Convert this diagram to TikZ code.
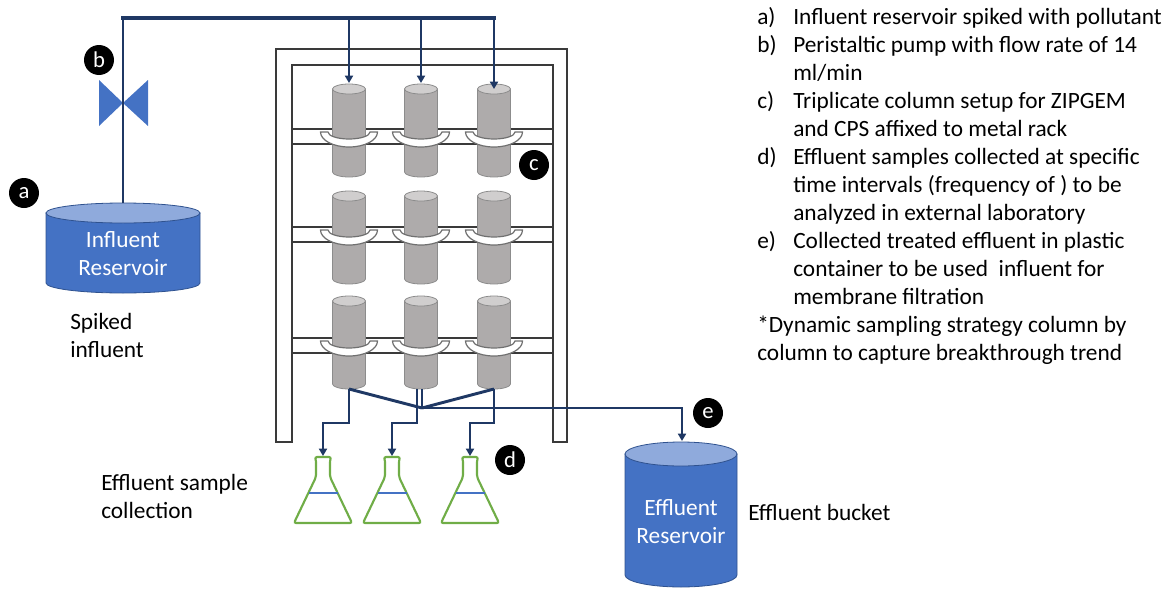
\documentclass[tikz,border=0pt]{standalone}
\usepackage{fontspec}
\setmainfont{Carlito}
\usetikzlibrary{arrows.meta}

\definecolor{pipeblue}{HTML}{1F3864}
\definecolor{tankblue}{HTML}{4472C4}
\definecolor{tankedge}{HTML}{2F528F}
\definecolor{tanktop}{HTML}{8FAADC}
\definecolor{colgray}{HTML}{AEABAB}
\definecolor{coltop}{HTML}{D0CECE}
\definecolor{coledge}{HTML}{8C8C8C}
\definecolor{flaskgreen}{HTML}{70AD47}
\definecolor{rackgray}{HTML}{3A3A3A}

\tikzset{
  rack/.style={draw=rackgray, line width=1.1pt},
  pipeline/.style={draw=pipeblue, line width=2.2pt},
  flow/.style={pipeline, -{Triangle[length=5.5pt,width=6pt]}},
  tag/.style={circle, fill=black, text=white, minimum size=22.5pt, inner sep=0pt,
    font=\fontsize{17}{17}\selectfont},
  tanktext/.style={text=white, align=center, inner sep=0pt, font=\fontsize{17.5}{21}\selectfont},
  note/.style={align=left, inner sep=0pt, font=\fontsize{17.5}{21}\selectfont},
}

% column with clamp: x, top, bottom, clamp level
\newcommand{\sorbcol}[4]{%
  \filldraw[fill=colgray, draw=coledge, line width=0.6pt]
    (#1-16.5,#2) -- (#1-16.5,#3)
    arc[start angle=180, end angle=0, x radius=16.5, y radius=5]
    -- (#1+16.5,#2) -- cycle;
  \filldraw[fill=coltop, draw=coledge, line width=0.6pt]
    (#1,#2) ellipse[x radius=16.5, y radius=5];
  \filldraw[fill=white, draw=coledge!80!black, line width=0.9pt]
    (#1-28.5,#4) arc[start angle=180, end angle=0, x radius=28.5, y radius=15]
    -- (#1+21,#4) arc[start angle=0, end angle=180, x radius=21, y radius=7] -- cycle;
}

% sample flask: x, neck top
\newcommand{\flask}[2]{%
  \draw[draw=flaskgreen, line width=1.6pt, fill=white, rounded corners=1.5pt]
    (#1-29,#2+66) -- (#1-7,#2+20) -- (#1-7,#2+3) -- (#1-8,#2) -- (#1+8,#2)
    -- (#1+7,#2+3) -- (#1+7,#2+20) -- (#1+29,#2+66) -- cycle;
  \draw[draw=tankblue, line width=1.6pt] (#1-14.5,#2+36) -- (#1+14.5,#2+36);
}

\begin{document}
\begin{tikzpicture}[x=0.75pt, y=-0.75pt]

  \useasboundingbox (0,0) rectangle (1167,589);

  % Rack
  \draw[rack] (276,442) -- (276,49) -- (567,49) -- (567,442) -- (553,442)
    -- (553,65) -- (292,65) -- (292,442) -- cycle;
  \foreach \sy in {129,227,338}
    \draw[rack] (292,\sy) -- (553,\sy) (292,\sy+15) -- (553,\sy+15);

  % Columns, three per shelf
  \foreach \cx in {349,421,494}
    \foreach \ytop/\ybot/\yclamp in {89/172/132, 196/279/230, 301/384/341}
      {\sorbcol{\cx}{\ytop}{\ybot}{\yclamp}}

  % Influent reservoir
  \filldraw[fill=tankblue, draw=tankedge, line width=0.6pt]
    (46,213) -- (46,283) arc[start angle=180, end angle=0, x radius=77, y radius=10]
    -- (200,213) -- cycle;
  \filldraw[fill=tanktop, draw=tankedge, line width=0.6pt]
    (123,213) ellipse[x radius=77, y radius=10];
  \node[tanktext] (influent) at (123,254) {Influent\\Reservoir};

  % Effluent reservoir
  \filldraw[fill=tankblue, draw=tankedge, line width=0.6pt]
    (625,454) -- (625,575) arc[start angle=180, end angle=0, x radius=56, y radius=12]
    -- (737,454) -- cycle;
  \filldraw[fill=tanktop, draw=tankedge, line width=0.6pt]
    (681,454) ellipse[x radius=56, y radius=12];
  \node[tanktext] (effluent) at (681,522) {Effluent\\Reservoir};

  % Flasks
  \foreach \fx in {323,392,470}
    {\flask{\fx}{457}}

  % Pump
  \fill[tankblue] (99,80) -- (123,103) -- (99,126) -- cycle;
  \fill[tankblue] (148,80) -- (123,103) -- (148,126) -- cycle;

  % Pipe ends
  \coordinate (inltop) at (123,203);
  \coordinate (header) at (0,18);
  \coordinate (c1top) at (349,83);
  \coordinate (c2top) at (421,83);
  \coordinate (c3top) at (494,89);
  \coordinate (c1bot) at (349,389);
  \coordinate (c2bot) at (422,389);
  \coordinate (c2out) at (417,389);
  \coordinate (c3bot) at (494,389);
  \coordinate (junc) at (422,408);
  \coordinate (split) at (0,423);
  \coordinate (f1) at (323,456);
  \coordinate (f2) at (392,456);
  \coordinate (f3) at (470,456);
  \coordinate (efftop) at (682,441);

  % Feed lines
  \draw[flow] (inltop) -- (inltop |- header) -- (c3top |- header) -- (c3top);
  \draw[pipeline, line width=3.4pt, line cap=rect] (inltop |- header) -- (c3top |- header);
  \draw[flow] (c1top |- header) -- (c1top);
  \draw[flow] (c2top |- header) -- (c2top);

  % Outlet lines
  \draw[pipeline] (c1bot) -- (junc);
  \draw[pipeline] (c3bot) -- (junc);
  \draw[flow] (c1bot) -- (c1bot |- split) -| (f1);
  \draw[flow] (c2out) -- (c2out |- split) -| (f2);
  \draw[flow] (c3bot) -- (c3bot |- split) -| (f3);
  \draw[flow] (c2bot) -- (junc) -| (efftop);

  % Letters
  \node[tag] (tagA) at (24,193) {a};
  \node[tag] (tagB) at (99,60) {b};
  \node[tag] (tagC) at (534,165) {c};
  \node[tag] (tagD) at (510,460) {d};
  \node[tag] (tagE) at (708,413) {e};

  % Captions
  \node[note, anchor=west] (spiked) at (70,335) {Spiked\\influent};
  \node[note, anchor=west] (sampling) at (101,496) {Effluent sample\\collection};
  \node[note, anchor=west] (bucket) at (748,512) {Effluent bucket};

  % Legend
  \node[note, anchor=north west] (legend) at (757,5) {%
    \begin{tabular}{@{}p{27pt}@{}l@{}}
      a) & Influent reservoir spiked with pollutant\\
      b) & Peristaltic pump with flow rate of 14\\
         & ml/min\\
      c) & Triplicate column setup for ZIPGEM\\
         & and CPS affixed to metal rack\\
      d) & Effluent samples collected at specific\\
         & time intervals (frequency of ) to be\\
         & analyzed in external laboratory\\
      e) & Collected treated effluent in plastic\\
         & container to be used~ influent for\\
         & membrane filtration\\
      \multicolumn{2}{@{}l@{}}{*Dynamic sampling strategy column by}\\
      \multicolumn{2}{@{}l@{}}{column to capture breakthrough trend}
    \end{tabular}};

\end{tikzpicture}
\end{document}
